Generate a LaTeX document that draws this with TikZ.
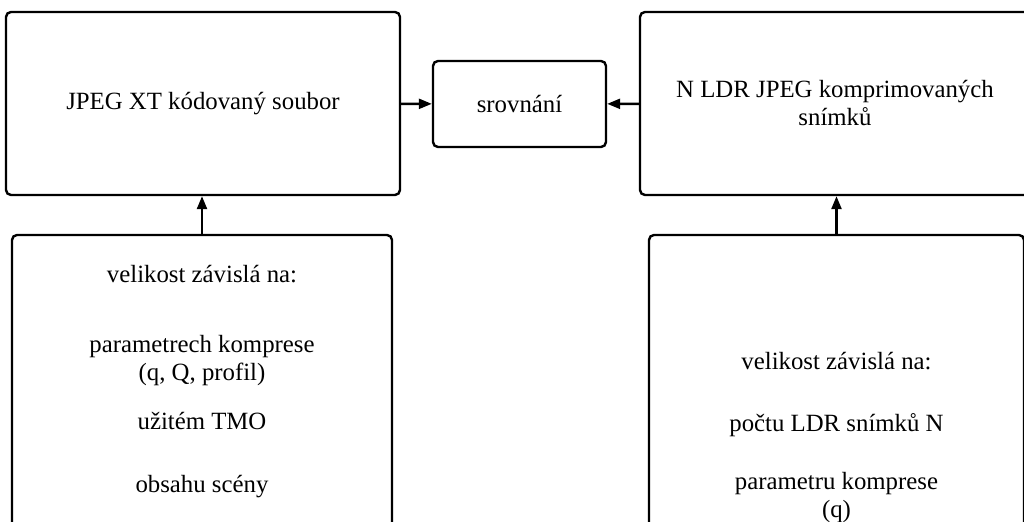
\documentclass[tikz,border=0pt]{standalone}
\usepackage{fontspec}
\setmainfont{Liberation Serif}
\usetikzlibrary{arrows.meta}

\begin{document}
\begin{tikzpicture}[x=0.5pt,y=-0.5pt,
  box/.style={rectangle,draw,line width=1.2pt,rounded corners=2.5pt,align=center,
    font=\fontsize{12.4}{14}\selectfont,inner sep=0pt},
  arr/.style={-{Triangle[length=6.5pt,width=5pt]},line width=1.2pt}]
\useasboundingbox (0,0) rectangle (1024,522);
\node [box,minimum width=197pt,minimum height=91.5pt] (soubor) at (203,103.5) {JPEG XT kódovaný soubor};
\node [box,minimum width=86.5pt,minimum height=43pt] (srovnani) at (519.5,104) {srovnání};
\node [box,minimum width=195pt,minimum height=91.5pt] (snimky) at (835,103.5) {N LDR JPEG komprimovaných\\snímků};
\node [box,minimum width=190pt,minimum height=147pt] (velxt) at (202,382)
  {velikost závislá na:\\[21pt] parametrech komprese\\(q, Q, profil)\\[10.5pt] užitém TMO\\[17.5pt] obsahu scény};
\node [box,minimum width=187.5pt,minimum height=203pt] (velldr) at (836.5,438)
  {velikost závislá na:\\[17pt] počtu LDR snímků N\\[15pt] parametru komprese\\(q)};
\draw [arr] (soubor) -- (srovnani);
\draw [arr] (snimky) -- (srovnani);
\draw [arr] (velxt.north) -- (velxt.north |- soubor.south);
\draw [arr] (velldr.north) -- (velldr.north |- snimky.south);
\end{tikzpicture}
\end{document}
